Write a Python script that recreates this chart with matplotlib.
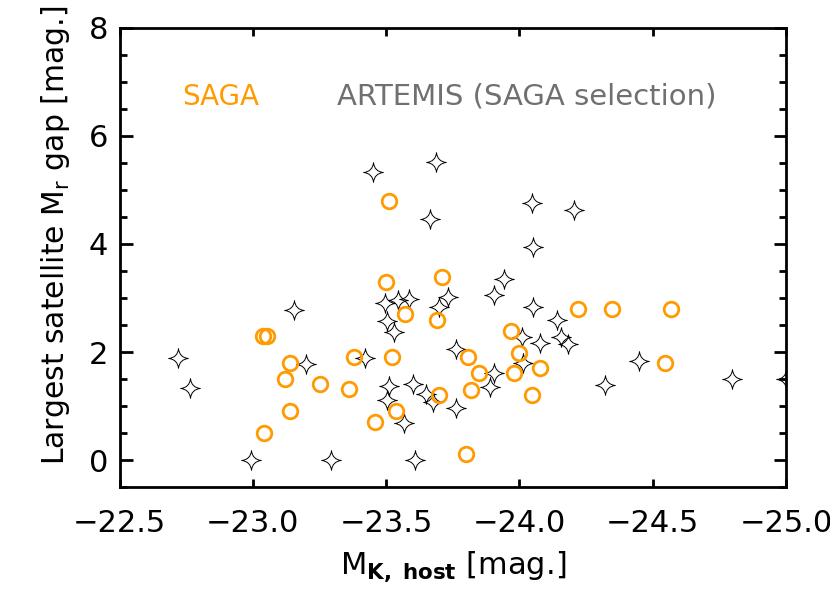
import numpy as np
import matplotlib
matplotlib.use("Agg")
import matplotlib.pyplot as plt
from matplotlib.path import Path
from matplotlib.ticker import MultipleLocator, FuncFormatter

# SAGA hosts (orange circles)
saga_mk = [-23.511, -23.500, -23.709, -23.569, -23.690, -23.040, -23.055,
           -23.141, -23.379, -23.521, -23.120, -23.251, -23.360, -23.698,
           -23.538, -23.460, -23.141, -23.041, -23.800, -23.809, -23.850,
           -23.820, -23.969, -23.997, -23.979, -24.078, -24.048, -24.218,
           -24.346, -24.568, -24.547]
saga_gap = [4.80, 3.29, 3.39, 2.70, 2.59, 2.30, 2.30,
            1.80, 1.90, 1.90, 1.50, 1.40, 1.31, 1.20,
            0.91, 0.70, 0.91, 0.51, 0.11, 1.90, 1.61,
            1.30, 2.39, 1.99, 1.61, 1.71, 1.20, 2.80,
            2.80, 2.80, 1.80]

# ARTEMIS hosts, SAGA selection (open stars)
art_mk = [-23.450, -23.688, -23.663, -23.155, -23.494, -23.544, -23.585,
          -23.731, -23.700, -23.504, -23.528, -23.199, -23.422, -22.718,
          -22.764, -23.511, -23.504, -23.600, -23.650, -23.675, -23.567,
          -22.993, -23.295, -23.609, -23.763, -23.763, -23.904, -23.888,
          -24.010, -24.078, -24.156, -24.181, -24.012, -24.052, -23.941,
          -23.906, -24.052, -24.141, -24.047, -24.203, -24.449, -24.321,
          -24.797, -25.000]
art_gap = [5.34, 5.51, 4.46, 2.78, 2.90, 2.96, 2.98,
           3.02, 2.84, 2.58, 2.38, 1.77, 1.89, 1.89,
           1.34, 1.37, 1.12, 1.40, 1.22, 1.08, 0.68,
           0.00, 0.00, 0.00, 2.05, 0.96, 1.61, 1.35,
           2.27, 2.17, 2.28, 2.15, 1.80, 3.95, 3.36,
           3.06, 2.84, 2.59, 4.75, 4.63, 1.83, 1.39,
           1.51, 1.50]

# concave four-pointed star marker
c = 0.1
star = Path(
    [(0, 1), (c, c), (1, 0), (c, -c), (0, -1), (-c, -c), (-1, 0), (-c, c), (0, 1), (0, 1)],
    [Path.MOVETO, Path.CURVE3, Path.CURVE3, Path.CURVE3, Path.CURVE3,
     Path.CURVE3, Path.CURVE3, Path.CURVE3, Path.CURVE3, Path.CLOSEPOLY])

orange = '#FF9A00'

fig = plt.figure(figsize=(8.3, 5.94), dpi=100)
ax = fig.add_axes([0.144, 0.180, 0.803, 0.773])

ax.plot(art_mk, art_gap, linestyle='none', marker=star, markersize=14,
        markerfacecolor='none', markeredgecolor='black', markeredgewidth=0.7)
ax.plot(saga_mk, saga_gap, linestyle='none', marker='o', markersize=10.5,
        markerfacecolor='none', markeredgecolor=orange, markeredgewidth=2.0)

ax.set_xlim(-22.5, -25.0)
ax.set_ylim(-0.5, 8)
ax.xaxis.set_major_locator(MultipleLocator(0.5))
ax.yaxis.set_major_locator(MultipleLocator(2))
ax.yaxis.set_minor_locator(MultipleLocator(0.5))
ax.xaxis.set_major_formatter(FuncFormatter(lambda v, p: f"{v:.1f}".replace('-', '\u2212')))

for s in ax.spines.values():
    s.set_linewidth(2.0)
ax.tick_params(axis='both', which='both', direction='in', top=True, right=True,
               labelsize=22, width=2.0)
ax.tick_params(axis='y', which='major', length=9, pad=8)
ax.tick_params(axis='y', which='minor', length=5)
ax.tick_params(axis='x', which='major', length=6, pad=16)

ax.set_xlabel(r'M$_{\mathbf{K,\ host}}$ [mag.]', fontsize=22, labelpad=8)
ax.set_ylabel(r'Largest satellite M$_{\mathregular{r}}$ gap [mag.]', fontsize=21.5)
ax.yaxis.set_label_coords(-0.071, 0.549)

ax.text(0.094, 0.85, 'SAGA', color=orange, fontsize=20, transform=ax.transAxes, va='center')
ax.text(0.327, 0.85, 'ARTEMIS (SAGA selection)', color='#707070', fontsize=21,
        transform=ax.transAxes, va='center')

fig.savefig('out.png', dpi=100)
